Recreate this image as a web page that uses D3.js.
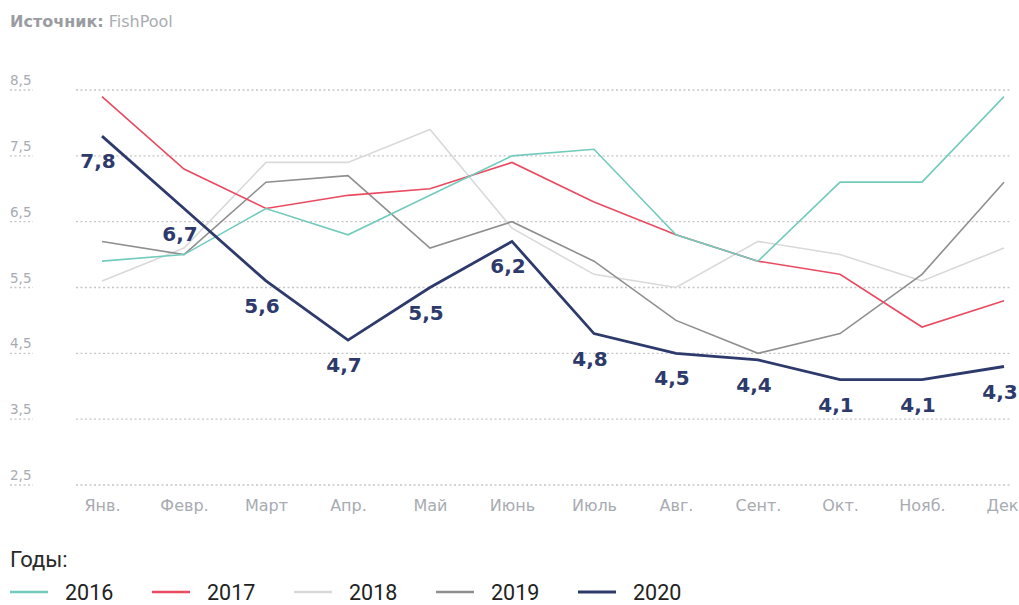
<!DOCTYPE html>
<html><head><meta charset="utf-8">
<script src="https://cdn.jsdelivr.net/npm/d3@7"></script>
<style>body{margin:0;background:#fff}svg{display:block}</style>
</head><body>
<svg id="c" width="1019" height="605"></svg>
<script>
const months = ["Янв.","Февр.","Март","Апр.","Май","Июнь","Июль","Авг.","Сент.","Окт.","Нояб.","Дек"];
const yTicks = [2.5,3.5,4.5,5.5,6.5,7.5,8.5];
const years = ["2016","2017","2018","2019","2020"];
const s2016 = [5.9,6.0,6.7,6.3,6.9,7.5,7.6,6.3,5.9,7.1,7.1,8.4];
const s2017 = [8.4,7.3,6.7,6.9,7.0,7.4,6.8,6.3,5.9,5.7,4.9,5.3];
const s2018 = [5.6,6.1,7.4,7.4,7.9,6.4,5.7,5.5,6.2,6.0,5.6,6.1];
const s2019 = [6.2,6.0,7.1,7.2,6.1,6.5,5.9,5.0,4.5,4.8,5.7,7.1];
const s2020 = [7.8,6.7,5.6,4.7,5.5,6.2,4.8,4.5,4.4,4.1,4.1,4.3];

const seriesData = {"2016":s2016,"2017":s2017,"2018":s2018,"2019":s2019,"2020":s2020};
const colors = {"2016":"#72cbbd","2017":"#ea4a60","2018":"#d9d9d9","2019":"#8f8f8f","2020":"#2d3a6b"};
const widths = {"2016":1.6,"2017":1.6,"2018":1.6,"2019":1.6,"2020":2.8};
const drawOrder = ["2018","2019","2017","2016","2020"];

const svg = d3.select("#c");
const x = d3.scalePoint().domain(months).range([102,1004]);
const y = d3.scaleLinear().domain([2.5,8.5]).range([485,90]);
const fontA = "'DejaVu Sans', sans-serif";

// title
const t = svg.append("text").attr("x",10).attr("y",27).attr("font-family",fontA).attr("font-size",16);
t.append("tspan").attr("font-weight","bold").attr("fill","#9a9ca2").text("Источник:");
t.append("tspan").attr("fill","#a9acb2").text(" FishPool");

// grid
const g = svg.append("g");
yTicks.forEach(v=>{
  g.append("line").attr("x1",76).attr("x2",1012).attr("y1",y(v)).attr("y2",y(v))
    .attr("stroke","#c6c6c6").attr("stroke-width",1.3).attr("stroke-dasharray","2,2.5");
  g.append("line").attr("x1",10).attr("x2",33).attr("y1",y(v)).attr("y2",y(v))
    .attr("stroke","#c6c6c6").attr("stroke-width",1.3).attr("stroke-dasharray","2,2.5");
  g.append("text").attr("x",10).attr("y",y(v)-5).attr("font-family",fontA).attr("font-size",13.5)
    .attr("fill","#a8abb2").text(String(v).replace(".",","));
});

// x labels
const xAxis = d3.axisBottom(x).tickSize(0).tickPadding(0);
const xa = svg.append("g").attr("transform","translate(0,496)").call(xAxis);
xa.select(".domain").remove();
xa.selectAll("text").attr("font-family",fontA).attr("font-size",16).attr("fill","#a8abb2").attr("dy","0.95em");
xa.selectAll(".tick").filter(d=>d===months[months.length-1]).select("text")
  .attr("text-anchor","end").attr("x",14);

// lines
const line = d3.line().x((d,i)=>x(months[i])).y(d=>y(d));
drawOrder.forEach(k=>{
  svg.append("path").datum(seriesData[k]).attr("d",line).attr("fill","none")
    .attr("stroke",colors[k]).attr("stroke-width",widths[k]).attr("stroke-linejoin","miter");
});

// labels 2020
svg.append("g").selectAll("text").data(s2020).join("text")
  .attr("x",(d,i)=>x(months[i])-4).attr("y",(d,i)=>y(d)+32)
  .attr("text-anchor","middle").attr("font-family",fontA).attr("font-weight","bold")
  .attr("font-size",20).attr("fill","#2d3a6b")
  .text(d=>String(d).replace(".",","));

// legend
svg.append("text").attr("x",10).attr("y",567).attr("font-family","Roboto, sans-serif").attr("font-size",22)
  .attr("fill","#2a2a2a").text("Годы:");
const lg = svg.append("g").selectAll("g").data(years).join("g")
  .attr("transform",(d,i)=>`translate(${10+i*142},0)`);
lg.append("line").attr("x1",0).attr("x2",38).attr("y1",592).attr("y2",592)
  .attr("stroke",d=>colors[d]).attr("stroke-width",d=>d==="2020"?3:2.4);
lg.append("text").attr("x",55).attr("y",599.5).attr("font-family","Roboto, sans-serif").attr("font-size",21.5)
  .attr("fill","#222").text(d=>d);
</script>
</body></html>
